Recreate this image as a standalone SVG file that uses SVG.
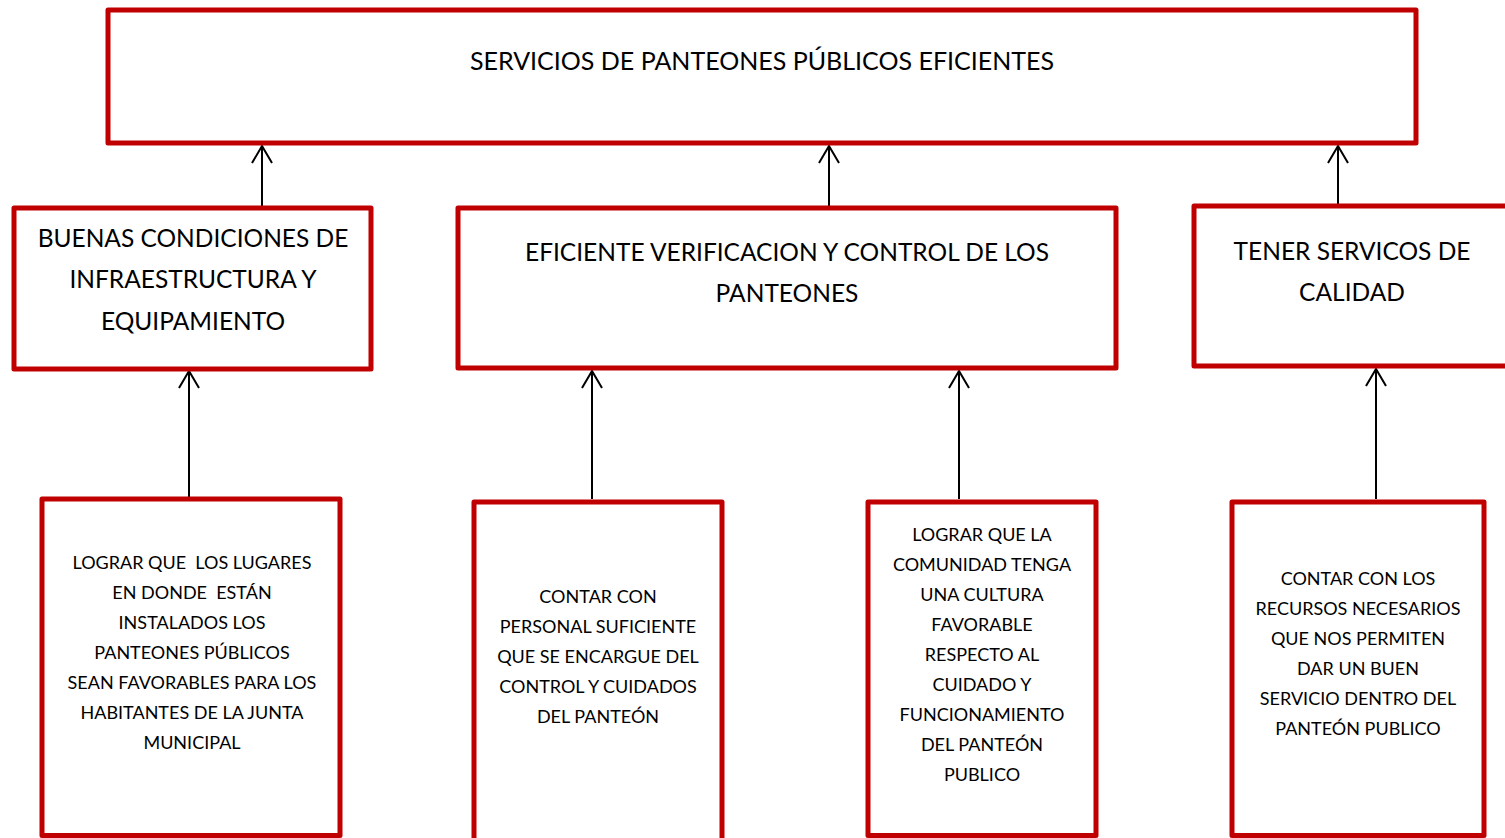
<svg xmlns="http://www.w3.org/2000/svg" width="1505" height="838" viewBox="0 0 1505 838">
<style>
.box{fill:#fff;stroke:#C00000;stroke-width:5;stroke-linejoin:round}
.t{font-family:Lato,"Open Sans","Liberation Sans",sans-serif;fill:#000;text-anchor:middle;white-space:pre}
.big{font-size:25px}
.mid{font-size:24.5px}
.sm{font-size:18px}
.c{stroke:#000;stroke-width:2;fill:none}
</style>
<rect width="1505" height="838" fill="#fff"/>
<g id="connectors">
<path class="c" d="M262,206 V146"/>
<path class="c" d="M252,163 L262,146 L272,163"/>
<path class="c" d="M829,206 V146"/>
<path class="c" d="M819,163 L829,146 L839,163"/>
<path class="c" d="M1338,204 V146"/>
<path class="c" d="M1328,163 L1338,146 L1348,163"/>
<path class="c" d="M189,497 V371"/>
<path class="c" d="M179,388 L189,371 L199,388"/>
<path class="c" d="M592,499 V371"/>
<path class="c" d="M582,388 L592,371 L602,388"/>
<path class="c" d="M959,499 V371"/>
<path class="c" d="M949,388 L959,371 L969,388"/>
<path class="c" d="M1376,499 V369"/>
<path class="c" d="M1366,386 L1376,369 L1386,386"/>
</g>
<g id="top">
<rect class="box" x="108" y="10" width="1308" height="133"/>
<text class="t big" x="762" y="70">SERVICIOS DE PANTEONES PÚBLICOS EFICIENTES</text>
</g>
<g id="n1">
<rect class="box" x="14" y="208" width="357" height="161"/>
<text class="t mid" x="193" y="247">BUENAS CONDICIONES DE</text>
<text class="t mid" x="193" y="288">INFRAESTRUCTURA Y</text>
<text class="t mid" x="193" y="330">EQUIPAMIENTO</text>
</g>
<g id="n2">
<rect class="box" x="458" y="208" width="658" height="160"/>
<text class="t mid" x="787" y="261">EFICIENTE VERIFICACION Y CONTROL DE LOS</text>
<text class="t mid" x="787" y="302">PANTEONES</text>
</g>
<g id="n3">
<rect class="box" x="1194" y="206" width="330" height="160"/>
<text class="t mid" x="1352" y="260">TENER SERVICOS DE</text>
<text class="t mid" x="1352" y="301">CALIDAD</text>
</g>
<g id="b1">
<rect class="box" x="42" y="499" width="298" height="336.5"/>
<text class="t sm" x="192" y="569" xml:space="preserve">LOGRAR QUE  LOS LUGARES</text>
<text class="t sm" x="192" y="599" xml:space="preserve">EN DONDE  ESTÁN</text>
<text class="t sm" x="192" y="629">INSTALADOS LOS</text>
<text class="t sm" x="192" y="659">PANTEONES PÚBLICOS</text>
<text class="t sm" x="192" y="689">SEAN FAVORABLES PARA LOS</text>
<text class="t sm" x="192" y="719">HABITANTES DE LA JUNTA</text>
<text class="t sm" x="192" y="749">MUNICIPAL</text>
</g>
<g id="b2">
<rect class="box" x="474" y="502" width="248" height="350"/>
<text class="t sm" x="598" y="603">CONTAR CON</text>
<text class="t sm" x="598" y="633">PERSONAL SUFICIENTE</text>
<text class="t sm" x="598" y="663">QUE SE ENCARGUE DEL</text>
<text class="t sm" x="598" y="693">CONTROL Y CUIDADOS</text>
<text class="t sm" x="598" y="723">DEL PANTEÓN</text>
</g>
<g id="b3">
<rect class="box" x="868" y="502" width="228" height="333.5"/>
<text class="t sm" x="982" y="541">LOGRAR QUE LA</text>
<text class="t sm" x="982" y="571">COMUNIDAD TENGA</text>
<text class="t sm" x="982" y="601">UNA CULTURA</text>
<text class="t sm" x="982" y="631">FAVORABLE</text>
<text class="t sm" x="982" y="661">RESPECTO AL</text>
<text class="t sm" x="982" y="691">CUIDADO Y</text>
<text class="t sm" x="982" y="721">FUNCIONAMIENTO</text>
<text class="t sm" x="982" y="751">DEL PANTEÓN</text>
<text class="t sm" x="982" y="781">PUBLICO</text>
</g>
<g id="b4">
<rect class="box" x="1232" y="502" width="252" height="333.5"/>
<text class="t sm" x="1358" y="585">CONTAR CON LOS</text>
<text class="t sm" x="1358" y="615">RECURSOS NECESARIOS</text>
<text class="t sm" x="1358" y="645">QUE NOS PERMITEN</text>
<text class="t sm" x="1358" y="675">DAR UN BUEN</text>
<text class="t sm" x="1358" y="705">SERVICIO DENTRO DEL</text>
<text class="t sm" x="1358" y="735">PANTEÓN PUBLICO</text>
</g>
</svg>
